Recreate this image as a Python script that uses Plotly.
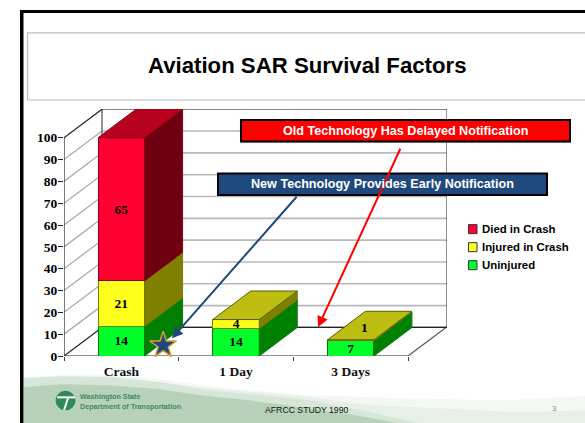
import plotly.graph_objects as go

# ---- data ----
categories = ["Crash", "1 Day", "3 Days"]
series_names = ["Uninjured", "Injured in Crash", "Died in Crash"]
uninjured = [13.6, 12.6, 7.0]
injured = [20.8, 4.1, 0.4]
died = [65.6, 0, 0]
uninjured_labels = ["14", "14", "7"]
injured_labels = ["21", "4", "1"]
died_labels = ["65", "", ""]
y_ticks = [0, 10, 20, 30, 40, 50, 60, 70, 80, 90, 100]
title_text = "Aviation SAR Survival Factors"
old_tech = "Old Technology Has Delayed Notification"
new_tech = "New Technology Provides Early Notification"
footer = "AFRCC STUDY 1990"
org_lines = ["Washington State", "Department of Transportation"]
page_no = "3"

# ---- style / layout ----
W, H = 585, 423
L, R, T, B = 64.0, 447.0, 109.0, 355.7     # plot area in page pixels
CAT_PX = 114.67
UNIT_PX = 2.18
DX = 38.0 / CAT_PX       # 3-D depth in axis units
DY = 28.5 / UNIT_PX
BAR_W = 46.5 / CAT_PX
XMAX = (R - L) / CAT_PX
YMAX = (B - T) / UNIT_PX
front = ["#00FF2A", "#FFFF1E", "#FF0030"]
side = ["#008000", "#808000", "#6E0010"]
top_c = ["#00A000", "#BDBD12", "#B8001F"]
edge = ["#0B7A12", "#7A7A00", "#8A0018"]
SERIF = "Liberation Serif"
SANS = "Liberation Sans"
BLUE = "#1F497D"


def X(px):
    return (px - L) / (R - L)


def Y(py):
    return (B - py) / (B - T)


centers = [i + 0.5 for i in range(len(categories))]
stacks = [uninjured, injured, died]
fig = go.Figure()

shapes = []


def pshape(path, fill, layer="below", line=None, opacity=1):
    shapes.append(dict(type="path", path=path, xref="paper", yref="paper",
                       fillcolor=fill, layer=layer, opacity=opacity,
                       line=line or dict(width=0)))


def path(pts):
    # pts: list of page pixel positions, closed polygon
    return "M " + " L ".join(f"{X(a):.4f},{Y(b):.4f}" for a, b in pts) + " Z"


wave = path

# footer waves, layered to approximate the soft gradient
pshape(wave([(24, 423), (24, 377), (60, 375), (110, 375), (160, 379), (209, 386), (260, 391), (310, 395),
             (400, 398), (500, 400), (585, 396), (585, 423)]), "#F3F8F3")
pshape(wave([(24, 423), (24, 378), (110, 376), (209, 388), (310, 397), (370, 405), (440, 408), (520, 412),
             (585, 410), (585, 423)]), "#E6F0E7")
pshape(wave([(24, 423), (24, 378), (60, 376), (110, 377), (160, 382), (209, 390), (260, 395),
             (310, 400), (370, 412), (420, 423)]), "#D6E6D8")
pshape(wave([(24, 423), (24, 387), (60, 384), (110, 385), (160, 389), (200, 395), (250, 400),
             (300, 407), (350, 414), (400, 423)]), "#B7D1BA")

# frame
shapes.append(dict(type="rect", xref="paper", yref="paper", x0=X(20), x1=X(23.5), y0=Y(423), y1=Y(10),
                   fillcolor="#000000", line=dict(width=0), layer="below"))
shapes.append(dict(type="rect", xref="paper", yref="paper", x0=X(20), x1=X(585), y0=Y(13), y1=Y(10),
                   fillcolor="#000000", line=dict(width=0), layer="below"))
# title box
shapes.append(dict(type="rect", xref="paper", yref="paper", x0=X(27.5), x1=X(586), y0=Y(100), y1=Y(33),
                   fillcolor="#FFFFFF", line=dict(width=1.2, color="#BDBDBD"), layer="below"))

# walls and gridlines (data space)
for v in y_ticks[1:-1]:
    shapes.append(dict(type="line", xref="x", yref="y", x0=0, y0=v, x1=DX, y1=v + DY,
                       line=dict(color="#ABABAB", width=1.3), layer="below"))
    shapes.append(dict(type="line", xref="x", yref="y", x0=DX, y0=v + DY, x1=XMAX, y1=v + DY,
                       line=dict(color="#B8B8B8", width=1.6), layer="below"))
shapes.append(dict(type="rect", xref="x", yref="y", x0=DX, x1=XMAX, y0=DY, y1=100 + DY,
                   line=dict(color="#5A5A5A", width=1.3), layer="below"))
for pair in [((0, 0), (DX, DY)), ((0, 100), (DX, 100 + DY)), ((0, 100), (0, 0)), ((0, 0), (3, 0)),
             ((3, 0), (3 + DX, DY)), ((DX, DY), (XMAX, DY))]:
    col = "#222222" if pair[0] != (3, 0) else "#555555"
    shapes.append(dict(type="line", xref="x", yref="y", x0=pair[0][0], y0=pair[0][1], x1=pair[1][0], y1=pair[1][1],
                       line=dict(color=col, width=1.2), layer="below"))

# front faces
for s, name, f, e in zip(stacks, series_names, front, edge):
    fig.add_trace(go.Bar(x=centers, y=s, width=BAR_W, name=name, showlegend=False,
                         marker=dict(color=f, line=dict(color=e, width=1))))

# side and top faces
for i, c in enumerate(centers):
    base = 0
    xr = c + BAR_W / 2
    xl = c - BAR_W / 2
    last = 0
    for k, s in enumerate(stacks):
        v = s[i]
        if v <= 0:
            continue
        fig.add_trace(go.Scatter(
            x=[xr, xr + DX, xr + DX, xr, xr], y=[base, base + DY, base + v + DY, base + v, base],
            mode="lines", fill="toself", fillcolor=side[k], line=dict(color=edge[k], width=1),
            showlegend=False, hoverinfo="skip", cliponaxis=False))
        base += v
        last = k
    fig.add_trace(go.Scatter(
        x=[xl, xr, xr + DX, xl + DX, xl], y=[base, base, base + DY, base + DY, base],
        mode="lines", fill="toself", fillcolor=top_c[last], line=dict(color="#5E5E00" if last == 1 else edge[last], width=1),
        showlegend=False, hoverinfo="skip", cliponaxis=False))

# value labels
lab_x, lab_y, lab_t = [], [], []
for i, c in enumerate(centers):
    base = 0
    for k, (s, labs) in enumerate(zip(stacks, [uninjured_labels, injured_labels, died_labels])):
        v = s[i]
        if v <= 0:
            continue
        if v < 1:      # too thin to hold its label: it sits on the top face
            lab_x.append(c + DX * 0.36)
            lab_y.append(base + v + DY * 0.38)
        else:
            lab_x.append(c)
            lab_y.append(base + v / 2 - 0.4)
        lab_t.append(f"<b>{labs[i]}</b>")
        base += v
fig.add_trace(go.Scatter(x=lab_x, y=lab_y, text=lab_t, mode="text", showlegend=False, cliponaxis=False,
                         textfont=dict(family=SERIF, size=13.5, color="#000000"), textposition="middle center"))

# star marker at the crash site
fig.add_trace(go.Scatter(x=[0.865], y=[4.9], mode="markers", showlegend=False, cliponaxis=False,
                         marker=dict(symbol="star", size=20, color=BLUE, line=dict(color="#E0A030", width=1.4))))

annotations = []


def note(text, px, py, size, color="#000000", family=SANS, bold=True, anchor="center"):
    annotations.append(dict(text=f"<b>{text}</b>" if bold else text, x=X(px), y=Y(py), xref="paper", yref="paper",
                            showarrow=False, xanchor=anchor, yanchor="middle", borderpad=0,
                            font=dict(family=family, size=size, color=color)))


def arrow(px0, py0, px1, py1, color):
    annotations.append(dict(x=X(px1), y=Y(py1), ax=px0 - px1, ay=py0 - py1, xref="paper", yref="paper",
                            axref="pixel", ayref="pixel", text="", showarrow=True, arrowhead=2,
                            arrowsize=1.1, arrowwidth=2, arrowcolor=color))


def callout(text, x0, x1, y0, y1, fill):
    pshape(path([(x0 + 1, y0 + 1), (x1 + 1, y0 + 1), (x1 + 1, y1 + 1), (x0 + 1, y1 + 1)]), "#9A9A9A", layer="above")
    pshape(path([(x0, y0), (x1, y0), (x1, y1), (x0, y1)]), fill, layer="above", line=dict(color="#000000", width=2))
    note(text, (x0 + x1) / 2 - 0.5, (y0 + y1) / 2, 12.6, color="#FFFFFF")


note(title_text, 307, 66, 22.2)
arrow(401, 147, 318, 327, "#FF0000")
arrow(298, 195, 172, 338, BLUE)
callout(old_tech, 241, 570, 120, 141.5, "#FF0000")
callout(new_tech, 218, 547, 173.5, 195, BLUE)

# legend
leg_y = [229, 247, 265]
for name, col, py in zip(reversed(series_names), reversed(front), leg_y):
    pshape(path([(468.5, py - 4.5), (477, py - 4.5), (477, py + 4.5), (468.5, py + 4.5)]), col,
           layer="above", line=dict(color="#333333", width=1))
    note(name, 480.5, py, 11.4, anchor="left")

# footer text and logo
shapes.append(dict(type="circle", xref="paper", yref="paper", x0=X(55.5), x1=X(75.5), y0=Y(410), y1=Y(390.5),
                   fillcolor="#2E8B57", line=dict(width=0), layer="above"))
pshape(path([(57, 396), (75, 396), (75, 398), (57, 398)]), "#FFFFFF", layer="above")
pshape(path([(67, 398), (69, 398), (65, 410), (63, 410)]), "#FFFFFF", layer="above")
note(org_lines[0], 79, 396.5, 7.2, color="#3C8C60", anchor="left")
note(org_lines[1], 79, 406, 7.2, color="#3C8C60", anchor="left")
note(footer, 264, 409.5, 8.7, color="#111111", bold=False, anchor="left")
note(page_no, 554, 408, 8, color="#8A8A8A", bold=False)

fig.update_layout(
    width=W, height=H, autosize=False,
    margin=dict(l=L, r=W - R, t=T, b=H - B, pad=0),
    paper_bgcolor="#FFFFFF", plot_bgcolor="rgba(0,0,0,0)",
    barmode="stack", showlegend=False,
    shapes=shapes, annotations=annotations,
    xaxis=dict(range=[0, XMAX], tickmode="array", tickvals=centers, ticktext=[f"<b>{c}</b>" for c in categories],
               ticks="", showgrid=False, zeroline=False, showline=False, ticklen=0, ticklabelstandoff=5,
               tickfont=dict(family=SERIF, size=13.5, color="#111111"),
               minor=dict(tickmode="array", tickvals=[0, 1, 2, 3], ticks="outside", ticklen=4, tickcolor="#444444", showgrid=False)),
    yaxis=dict(range=[0, YMAX], tickmode="array", tickvals=y_ticks, ticktext=[f"<b>{v}</b>" for v in y_ticks],
               ticks="outside", ticklen=5, tickcolor="#222222", showgrid=False, zeroline=False, showline=False,
               ticklabelstandoff=-2,
               tickfont=dict(family=SERIF, size=13.5, color="#000000")),
)
fig.write_html("out.html", config=dict(displayModeBar=False),
               post_script="document.body.style.margin='0';")
